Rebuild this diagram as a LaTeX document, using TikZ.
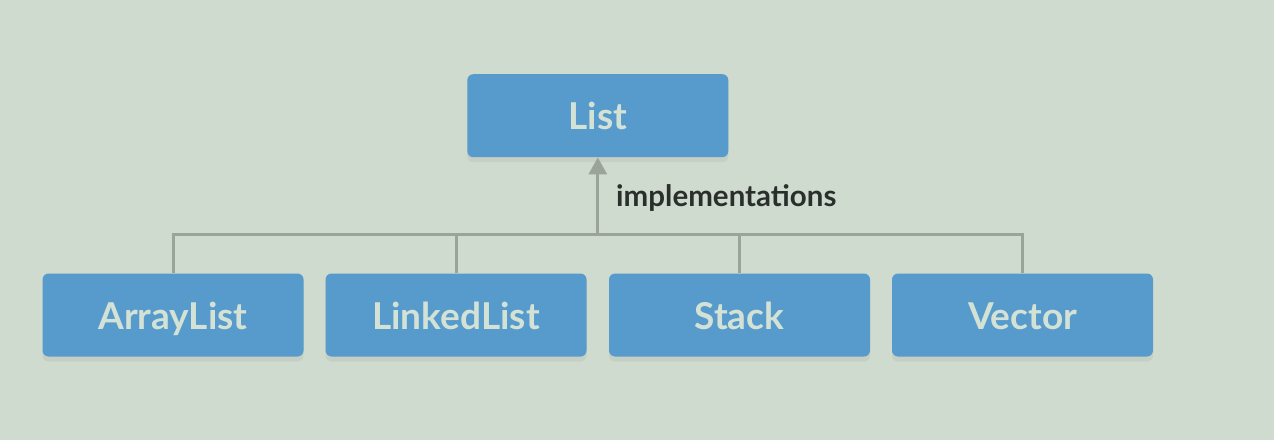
\documentclass[tikz,border=0pt]{standalone}
\usepackage{fontspec}
\setmainfont{Lato}
\usepackage{xcolor}
\usetikzlibrary{arrows.meta,shadows}
\definecolor{bgcol}{HTML}{CFDBCE}
\definecolor{boxcol}{HTML}{579BCD}
\definecolor{txtcol}{HTML}{D3E2D5}
\definecolor{linecol}{HTML}{9BA499}
\definecolor{lblcol}{HTML}{2B2F2C}

\begin{document}
\begin{tikzpicture}
[
x=1pt, y=1pt,
cls/.style={rectangle, fill=boxcol, text=txtcol, rounded corners=6pt, minimum width=261pt, minimum height=83pt, inner sep=0pt, text height=28.6pt, text depth=0pt, font=\fontsize{37}{40}\selectfont\bfseries, drop shadow={opacity=0.12, shadow xshift=0pt, shadow yshift=-5pt}},
conn/.style={draw=linecol, line width=3pt},
lbl/.style={text=lblcol, inner sep=0pt, font=\fontsize{29.5}{34}\selectfont\bfseries},
]
\fill[bgcol] (0,0) rectangle (1274,440);
\useasboundingbox (0,0) rectangle (1274,440);

\node at (597.8,324.3) [cls]      (list)     {List};
\node at (173,125)     [cls]      (arr)      {ArrayList};
\node at (456,125)     [cls]      (lnk)      {LinkedList};
\node at (739.5,125)   [cls]      (stk)      {Stack};
\node at (1022.5,125)  [cls]      (vec)      {Vector};
\coordinate (hub) at (597.8,206);

\draw[conn] (arr.north) |- (hub) -| (vec.north);
\draw[conn] (lnk.north) -- (lnk.north |- hub);
\draw[conn] (stk.north) -- (stk.north |- hub);
\draw[conn, -{Triangle[width=18pt, length=17pt]}, linecol] (hub) -- (list.south);
\node at (616,233.3) [lbl, anchor=base west] (impl) {implementations};
\end{tikzpicture}
\end{document}
